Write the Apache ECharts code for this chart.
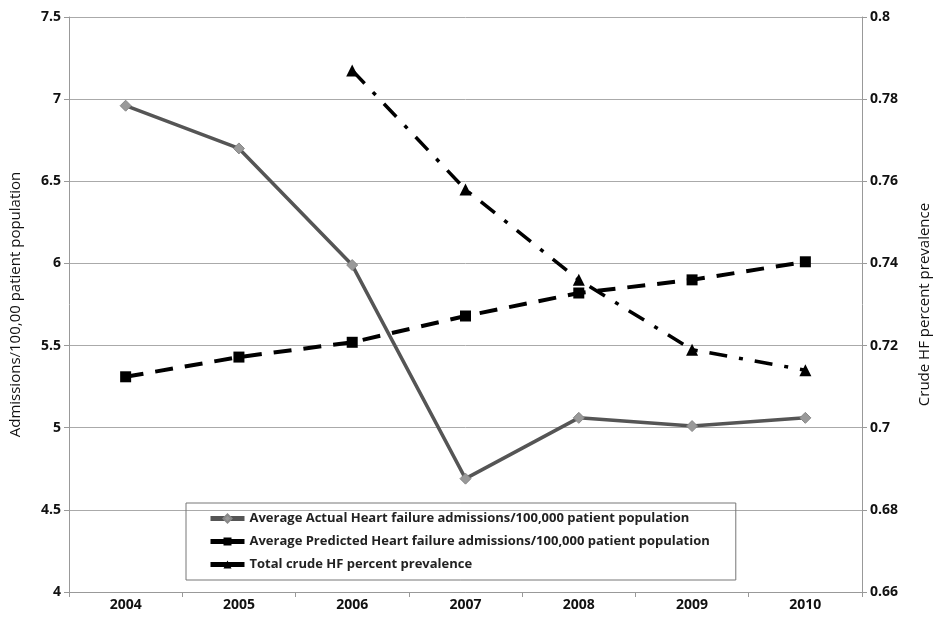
<!DOCTYPE html>
<html>
<head>
<meta charset="utf-8">
<script src="https://cdn.jsdelivr.net/npm/echarts@6/dist/echarts.min.js"></script>
<style>html,body{margin:0;padding:0;background:#fff}#c{width:940px;height:618px}</style>
</head>
<body>
<div id="c"></div>
<script>
const years = ['2004','2005','2006','2007','2008','2009','2010'];
const actual = [6.96, 6.70, 5.99, 4.69, 5.06, 5.01, 5.06];
const predicted = [5.31, 5.43, 5.52, 5.68, 5.82, 5.90, 6.01];
const prevalence = [null, null, 0.787, 0.758, 0.736, 0.719, 0.714];
const leftTicks = [4, 7.5, 0.5];
const rightTicks = [0.66, 0.8, 0.02];

const names = [
  'Average Actual Heart failure admissions/100,000 patient population',
  'Average Predicted Heart failure admissions/100,000 patient population',
  'Total crude HF percent prevalence'
];
const FONT = 'Open Sans';
const chart = echarts.init(document.getElementById('c'));
chart.setOption({
  animation: false,
  backgroundColor: '#fff',
  grid: {left: 68, right: 67, top: 17, bottom: 26},
  legend: {
    orient: 'vertical', left: 186, top: 503,
    borderColor: '#777', borderWidth: 1, padding: [9, 26, 9, 22],
    itemGap: 10, itemWidth: 34, itemHeight: 10,
    lineStyle: {type: 'solid', width: 5},
    textStyle: {fontFamily: FONT, fontSize: 13, fontWeight: 'bold', color: '#222'},
    data: names
  },
  xAxis: {
    type: 'category', data: years, boundaryGap: true,
    axisLine: {lineStyle: {color: '#999'}},
    axisTick: {show: true, interval: 0, length: 5, lineStyle: {color: '#999'}},
    axisLabel: {fontFamily: FONT, fontSize: 14, fontWeight: 'bold', color: '#111', margin: 6}
  },
  yAxis: [{
    type: 'value', min: leftTicks[0], max: leftTicks[1], interval: leftTicks[2],
    name: 'Admissions/100,00 patient population', nameLocation: 'middle', nameGap: 46,
    nameTextStyle: {fontFamily: FONT, fontSize: 15, color: '#111'},
    axisLine: {show: true, lineStyle: {color: '#999'}},
    axisTick: {show: true, length: 5, lineStyle: {color: '#999'}},
    axisLabel: {fontFamily: FONT, fontSize: 14, fontWeight: 'bold', color: '#111', margin: 8},
    splitLine: {lineStyle: {color: '#aaa', width: 1}}
  }, {
    type: 'value', min: rightTicks[0], max: rightTicks[1], interval: rightTicks[2],
    name: 'Crude HF percent prevalence', nameLocation: 'middle', nameGap: 55, nameRotate: 90,
    nameTextStyle: {fontFamily: FONT, fontSize: 15, color: '#111'},
    axisLine: {show: true, lineStyle: {color: '#999'}},
    axisTick: {show: true, length: 5, lineStyle: {color: '#999'}},
    axisLabel: {fontFamily: FONT, fontSize: 14, fontWeight: 'bold', color: '#111', margin: 8,
      formatter: v => String(+v.toFixed(2))},
    splitLine: {show: false}
  }],
  series: [{
    name: names[0], type: 'line', yAxisIndex: 0, data: actual,
    symbol: 'diamond', symbolSize: 11,
    lineStyle: {color: '#555', width: 3.5},
    itemStyle: {color: '#999', borderColor: '#888', borderWidth: 1},
    z: 3
  }, {
    name: names[1], type: 'line', yAxisIndex: 0, data: predicted,
    symbol: 'rect', symbolSize: 11,
    lineStyle: {color: '#000', width: 4, type: [18, 12]},
    itemStyle: {color: '#000'},
    z: 4
  }, {
    name: names[2], type: 'line', yAxisIndex: 1, data: prevalence,
    symbol: 'triangle', symbolSize: 12,
    lineStyle: {color: '#000', width: 3.5, type: [18, 12, 4, 12]},
    itemStyle: {color: '#000'},
    z: 5
  }]
});
</script>
</body>
</html>
